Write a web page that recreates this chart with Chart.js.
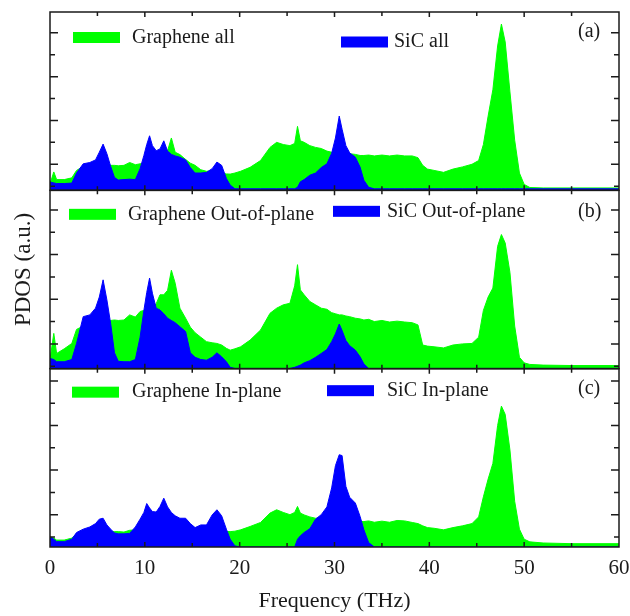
<!DOCTYPE html>
<html>
<head>
<meta charset="utf-8">
<script src="https://cdn.jsdelivr.net/npm/chart.js@4"></script>
<style>
    body { margin: 0; background: #fff; }
    #wrap { width: 630px; height: 616px; }
</style>
</head>
<body>
<div id="wrap"><canvas id="pdosChart"></canvas></div>
<script>
// Frekuensi (THz), dipakai bersama oleh semua seri
const freq = [
    0, 0.4, 0.7, 1.5, 2.3, 2.8, 3.5, 4.2, 4.8, 5.2,
    5.6, 6.0, 6.4, 6.8, 7.2, 7.8, 8.4, 9.0, 9.5, 9.9,
    10.2, 10.5, 10.8, 11.2, 11.6, 12.0, 12.4, 12.8, 13.2, 13.7,
    14.3, 14.8, 15.3, 15.9, 16.5, 17.1, 17.6, 18.1, 18.6, 19.0,
    19.5, 20.1, 21.1, 22.2, 23.2, 23.9, 24.6, 25.3, 25.8, 26.1,
    26.4, 26.8, 27.4, 28.0, 28.6, 29.2, 29.7, 30.1, 30.5, 30.8,
    31.2, 31.6, 32.2, 32.7, 33.1, 33.6, 34.2, 35.0, 35.8, 36.6,
    37.4, 38.2, 38.8, 39.3, 39.8, 40.5, 41.5, 42.5, 43.5, 44.5,
    45.2, 45.7, 46.2, 46.7, 47.2, 47.6, 48.0, 48.5, 49.0, 49.5,
    50.0, 50.6, 52, 55, 60
];

// (a) total
const grapheneAll = [
    0.10, 0.65, 0.30, 0.30, 0.38, 0.72, 0.90, 0.95, 1.00, 1.00,
    1.00, 1.00, 0.95, 0.95, 0.93, 0.95, 1.08, 0.98, 1.02, 1.05,
    1.10, 1.20, 1.30, 1.40, 1.50, 1.60, 1.62, 2.20, 1.55, 1.44,
    1.22, 1.05, 0.95, 0.75, 0.68, 0.70, 0.60, 0.60, 0.56, 0.55,
    0.60, 0.68, 0.86, 1.17, 1.77, 2.00, 1.90, 1.85, 1.95, 2.73,
    2.07, 2.00, 1.85, 1.77, 1.72, 1.60, 1.55, 1.55, 1.50, 1.50,
    1.50, 1.48, 1.45, 1.40, 1.40, 1.42, 1.38, 1.42, 1.38, 1.42,
    1.38, 1.38, 1.30, 0.95, 0.78, 0.72, 0.63, 0.78, 0.88, 1.00,
    1.17, 1.90, 3.20, 4.40, 6.40, 7.40, 6.58, 4.30, 2.10, 0.60,
    0.08, -0.06, -0.08, -0.08, -0.08
];
const sicAll = [
    0.19, 0.15, 0.12, 0.12, 0.14, 0.60, 1.02, 1.08, 1.20, 1.55,
    1.92, 1.48, 0.90, 0.40, 0.28, 0.30, 0.32, 0.30, 0.80, 1.40,
    1.90, 2.30, 1.85, 1.62, 1.70, 2.07, 1.60, 1.45, 1.38, 1.32,
    1.20, 0.85, 0.60, 0.60, 0.63, 0.80, 1.10, 0.95, 0.35, 0.05,
    -0.12, -0.12, -0.12, -0.12, -0.12, -0.12, -0.12, -0.12, -0.12, -0.05,
    0.20, 0.30, 0.50, 0.60, 0.85, 1.02, 1.50, 2.20, 3.20, 2.60,
    1.85, 1.52, 1.32, 0.87, 0.27, -0.05, -0.12, -0.12, -0.12, -0.12,
    -0.12, -0.12, -0.12, -0.12, -0.12, -0.12, -0.12, -0.12, -0.12, -0.12,
    -0.12, -0.12, -0.12, -0.12, -0.12, -0.12, -0.12, -0.12, -0.12, -0.12,
    -0.12, -0.12, -0.12, -0.12, -0.12
];

// (b) out-of-plane
const grapheneOut = [
    0.30, 1.47, 0.57, 0.78, 1.02, 1.65, 1.80, 1.90, 2.00, 2.00,
    2.00, 2.00, 2.05, 2.07, 2.05, 2.07, 2.30, 2.20, 2.45, 2.50,
    2.55, 2.60, 2.65, 2.80, 3.20, 3.20, 3.40, 4.30, 3.72, 2.60,
    2.15, 1.75, 1.50, 1.30, 1.10, 1.05, 1.02, 0.95, 0.80, 0.72,
    0.78, 0.87, 1.17, 1.62, 2.37, 2.60, 2.75, 2.82, 3.60, 4.55,
    3.42, 3.20, 2.90, 2.75, 2.60, 2.55, 2.40, 2.35, 2.30, 2.30,
    2.25, 2.22, 2.15, 2.12, 2.07, 2.10, 2.00, 2.05, 1.98, 2.02,
    1.98, 1.95, 1.85, 0.95, 0.90, 0.87, 0.82, 0.95, 1.00, 1.02,
    1.30, 2.50, 3.10, 3.50, 5.37, 5.90, 5.52, 4.20, 1.80, 0.40,
    0.15, 0.08, 0.05, 0.03, 0.03
];
const sicOut = [
    0.35, 0.30, 0.20, 0.20, 0.30, 1.02, 2.22, 2.30, 2.60, 3.10,
    3.87, 2.97, 1.90, 0.60, 0.22, 0.20, 0.20, 0.30, 1.30, 2.50,
    3.30, 3.95, 3.27, 2.60, 2.52, 2.35, 2.15, 2.05, 1.95, 1.77,
    1.55, 0.60, 0.40, 0.30, 0.27, 0.40, 0.60, 0.42, 0.20, -0.05,
    -0.10, -0.10, -0.10, -0.10, -0.10, -0.10, -0.10, -0.10, -0.05, 0.00,
    0.05, 0.15, 0.25, 0.40, 0.57, 0.75, 1.10, 1.45, 1.89, 1.60,
    1.15, 0.92, 0.72, 0.42, 0.10, -0.10, -0.10, -0.10, -0.10, -0.10,
    -0.10, -0.10, -0.10, -0.10, -0.10, -0.10, -0.10, -0.10, -0.10, -0.10,
    -0.10, -0.10, -0.10, -0.10, -0.10, -0.10, -0.10, -0.10, -0.10, -0.10,
    -0.10, -0.10, -0.10, -0.10, -0.10
];

// (c) in-plane
const grapheneIn = [
    0.00, -0.05, -0.14, -0.14, -0.05, 0.15, 0.20, 0.22, 0.22, 0.22,
    0.22, 0.22, 0.24, 0.24, 0.24, 0.22, 0.30, 0.32, 0.35, 0.40,
    0.40, 0.40, 0.45, 0.45, 0.45, 0.45, 0.45, 0.45, 0.42, 0.40,
    0.38, 0.35, 0.33, 0.30, 0.30, 0.30, 0.30, 0.28, 0.25, 0.24,
    0.26, 0.32, 0.47, 0.65, 1.07, 1.22, 1.10, 1.00, 1.10, 1.37,
    1.07, 0.99, 0.90, 0.84, 0.85, 0.80, 0.80, 0.80, 0.80, 0.80,
    0.78, 0.75, 0.72, 0.70, 0.69, 0.72, 0.66, 0.71, 0.66, 0.74,
    0.72, 0.65, 0.60, 0.50, 0.42, 0.39, 0.32, 0.42, 0.50, 0.60,
    0.90, 1.80, 2.60, 3.30, 5.00, 5.87, 5.50, 3.90, 1.60, 0.35,
    -0.10, -0.22, -0.27, -0.30, -0.30
];
const sicIn = [
    0.00, -0.10, -0.21, -0.21, -0.10, 0.20, 0.35, 0.45, 0.60, 0.80,
    0.84, 0.54, 0.35, 0.18, 0.14, 0.14, 0.16, 0.45, 0.80, 1.10,
    1.50, 1.30, 1.14, 1.12, 1.37, 1.74, 1.35, 1.10, 0.95, 0.84,
    0.84, 0.60, 0.42, 0.54, 0.54, 0.99, 1.22, 0.95, 0.35, -0.10,
    -0.40, -0.45, -0.45, -0.45, -0.45, -0.45, -0.45, -0.45, -0.45, -0.10,
    0.05, 0.20, 0.37, 0.80, 1.00, 1.35, 2.20, 3.20, 3.69, 3.65,
    2.27, 1.78, 1.52, 0.92, 0.32, -0.25, -0.45, -0.45, -0.45, -0.45,
    -0.45, -0.45, -0.45, -0.45, -0.45, -0.45, -0.45, -0.45, -0.45, -0.45,
    -0.45, -0.45, -0.45, -0.45, -0.45, -0.45, -0.45, -0.45, -0.45, -0.45,
    -0.45, -0.45, -0.45, -0.45, -0.45
];

const xTicks = [0, 10, 20, 30, 40, 50, 60];

const GREEN = '#00ff00';
const BLUE = '#0000ff';
const INK = '#1a1a1a';
const SERIF = '"Liberation Serif", "Times New Roman", serif';

// Fungsi untuk membuat satu dataset area
function buildSet(label, values, color, axis, order) {
    return {
        label: label,
        data: freq.map((f, i) => ({ x: f, y: values[i] })),
        yAxisID: axis,
        backgroundColor: color,
        borderColor: color,
        borderWidth: 1,
        pointRadius: 0,
        tension: 0,
        fill: 'start',
        order: order
    };
}

// Posisi legenda dan label panel (relatif terhadap atas panel)
const legendSpots = [
    { axis: 'yA', set: 0, boxX: 73, textX: 132, dy: 25.5 },
    { axis: 'yA', set: 1, boxX: 341, textX: 394, dy: 30 },
    { axis: 'yB', set: 2, boxX: 69, textX: 128, dy: 24 },
    { axis: 'yB', set: 3, boxX: 333, textX: 387, dy: 21 },
    { axis: 'yC', set: 4, boxX: 72, textX: 132, dy: 23.5 },
    { axis: 'yC', set: 5, boxX: 327, textX: 387, dy: 22 }
];
const panelTags = [
    { axis: 'yA', text: '(a)', dy: 20 },
    { axis: 'yB', text: '(b)', dy: 21 },
    { axis: 'yC', text: '(c)', dy: 20 }
];

// Plugin untuk bingkai, tick ke dalam, legenda, dan label sumbu Y
const framePlugin = {
    id: 'frame',
    afterDatasetsDraw(chart) {
        const c = chart.ctx;
        const area = chart.chartArea;
        const xs = chart.scales.x;
        c.save();
        c.strokeStyle = INK;
        c.lineWidth = 1.5;
        ['yA', 'yB', 'yC'].forEach(id => {
            const s = chart.scales[id];
            c.strokeRect(area.left, s.top, area.right - area.left, s.bottom - s.top);
            c.beginPath();
            for (let v = Math.ceil(s.min); v <= s.max; v++) {
                const py = s.getPixelForValue(v);
                const len = (v % 2) ? 8 : 5;
                c.moveTo(area.left, py); c.lineTo(area.left + len, py);
                c.moveTo(area.right, py); c.lineTo(area.right - len, py);
            }
            for (let f = 5; f < 60; f += 5) {
                const px = xs.getPixelForValue(f);
                const len = (f % 10) ? 4 : 5;
                c.moveTo(px, s.top); c.lineTo(px, s.top + len);
                c.moveTo(px, s.bottom); c.lineTo(px, s.bottom - len);
            }
            c.stroke();
        });

        // Legenda di dalam tiap panel
        c.font = '20px ' + SERIF;
        c.textBaseline = 'middle';
        c.textAlign = 'left';
        legendSpots.forEach(spot => {
            const s = chart.scales[spot.axis];
            const ds = chart.data.datasets[spot.set];
            const cy = s.top + spot.dy;
            c.fillStyle = ds.backgroundColor;
            c.fillRect(spot.boxX, cy - 5.5, 47, 11);
            c.fillStyle = INK;
            c.fillText(ds.label, spot.textX, cy);
        });
        panelTags.forEach(tag => {
            const s = chart.scales[tag.axis];
            c.fillText(tag.text, 578, s.top + tag.dy);
        });

        // Label sumbu Y
        c.font = '23px ' + SERIF;
        c.textAlign = 'center';
        c.translate(24, (area.top + area.bottom) / 2 - 10);
        c.rotate(-Math.PI / 2);
        c.fillText('PDOS (a.u.)', 0, 0);
        c.restore();
    }
};

document.addEventListener('DOMContentLoaded', function () {
    const ctx = document.getElementById('pdosChart').getContext('2d');
    const hiddenAxis = {
        type: 'linear',
        position: 'left',
        stack: 'pdos',
        stackWeight: 1,
        ticks: { display: false },
        grid: { display: false, drawTicks: false },
        border: { display: false }
    };
    new Chart(ctx, {
        type: 'line',
        data: {
            datasets: [
                buildSet('Graphene all', grapheneAll, GREEN, 'yA', 1),
                buildSet('SiC all', sicAll, BLUE, 'yA', 0),
                buildSet('Graphene Out-of-plane', grapheneOut, GREEN, 'yB', 1),
                buildSet('SiC Out-of-plane', sicOut, BLUE, 'yB', 0),
                buildSet('Graphene In-plane', grapheneIn, GREEN, 'yC', 1),
                buildSet('SiC In-plane', sicIn, BLUE, 'yC', 0)
            ]
        },
        options: {
            responsive: true,
            maintainAspectRatio: false,
            animation: false,
            layout: { padding: { left: 50, right: 11, top: 12, bottom: 2 } },
            plugins: {
                legend: { display: false },
                tooltip: { enabled: false }
            },
            scales: {
                x: {
                    type: 'linear',
                    min: 0,
                    max: 60,
                    afterBuildTicks: axis => { axis.ticks = xTicks.map(v => ({ value: v })); },
                    // tinggi sumbu X dan padding label dikunci agar area plot pas
                    afterFit: axis => {
                        axis.height = 67;
                        axis.paddingLeft = 0;
                        axis.paddingRight = 0;
                    },
                    ticks: { color: INK, padding: 9, font: { family: SERIF, size: 21 } },
                    grid: { display: false, drawTicks: false },
                    border: { display: false },
                    title: {
                        display: true,
                        text: 'Frequency (THz)',
                        color: INK,
                        font: { family: SERIF, size: 22 },
                        padding: { top: 4, bottom: 0 }
                    }
                },
                // urutan: yang didefinisikan terakhir berada paling atas
                yC: Object.assign({}, hiddenAxis, { min: -0.45, max: 7.55 }),
                yB: Object.assign({}, hiddenAxis, { min: -0.11, max: 7.88 }),
                yA: Object.assign({}, hiddenAxis, { min: -0.19, max: 7.95 })
            }
        },
        plugins: [framePlugin]
    });
});
</script>
</body>
</html>
